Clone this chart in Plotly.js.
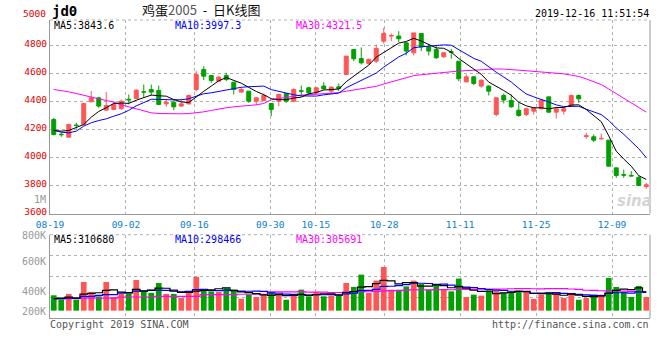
<!DOCTYPE html>
<html>
<head>
<meta charset="utf-8">
<script src="https://cdn.plot.ly/plotly-3.0.1.min.js"></script>
<style>html,body{margin:0;padding:0;background:#fff}#chart{width:660px;height:360px}</style>
</head>
<body>
<div id="chart"></div>
<script>
// ---------- data ----------
const tickIdx    = [0, 10, 19, 29, 35, 44, 54, 64, 74];
const tickLabels = ['08-19','09-02','09-16','09-30','10-15','10-28','11-11','11-25','12-09'];
const priceTicks = [3600, 3800, 4000, 4200, 4400, 4600, 4800];
const priceTickText = ['3600','3800','4000','4200','4400','4600','4800'];

const open  = [4271,4166,4145,4231,4236,4398,4426,4338,4343,4348,4416,4421,4469,4486,4479,4383,4395,4367,4383,4486,
               4629,4586,4545,4586,4538,4467,4474,4402,4407,4386,4402,4457,4402,4476,4498,4462,4510,4474,4505,4593,
               4771,4707,4671,4688,4831,4867,4867,4819,4748,4886,4790,4771,4719,4755,4688,4540,4576,4510,4510,4307,
               4443,4407,4338,4307,4331,4348,4433,4324,4331,4371,4443,4150,4148,4133,4124,3926,3878,3872,3858,3793];
const high  = [4283,4181,4240,4248,4390,4474,4433,4467,4402,4414,4450,4486,4521,4521,4514,4419,4407,4414,4450,4617,
               4652,4586,4581,4605,4538,4498,4474,4431,4457,4390,4457,4457,4493,4514,4505,4502,4538,4510,4529,4726,
               4771,4786,4707,4807,4926,4886,4902,4824,4890,4886,4807,4800,4752,4776,4688,4593,4581,4557,4514,4431,
               4457,4450,4390,4355,4362,4410,4433,4362,4362,4450,4450,4176,4164,4171,4124,3926,3914,3902,3871,3819];
const low   = [4157,4148,4145,4205,4229,4395,4355,4338,4338,4343,4379,4421,4431,4443,4379,4362,4338,4362,4379,4474,
               4552,4533,4545,4545,4450,4464,4390,4374,4402,4295,4367,4390,4395,4443,4450,4450,4486,4457,4474,4590,
               4688,4664,4664,4676,4814,4831,4824,4729,4729,4760,4729,4705,4712,4705,4545,4540,4517,4498,4443,4295,
               4386,4355,4290,4295,4307,4343,4319,4279,4307,4362,4390,4133,4110,4129,3938,3855,3855,3867,3795,3776];
const close = [4164,4163,4236,4229,4386,4426,4367,4371,4379,4402,4412,4481,4467,4467,4379,4395,4362,4383,4443,4593,
               4581,4550,4574,4557,4486,4486,4402,4426,4443,4343,4450,4402,4486,4474,4462,4498,4490,4502,4493,4724,
               4705,4676,4700,4779,4886,4871,4848,4760,4890,4790,4760,4712,4748,4752,4562,4576,4529,4552,4474,4426,
               4410,4362,4300,4348,4355,4410,4324,4348,4348,4443,4419,4155,4124,4136,3938,3872,3874,3868,3800,3805];
const volume = [290000,266000,298000,264000,368000,310000,284000,368000,280000,298000,
                300000,380000,313000,304000,362000,298000,298000,274000,304000,398000,
                317000,313000,310000,333000,323000,270000,294000,280000,294000,310000,
                294000,264000,288000,323000,284000,310000,284000,288000,288000,362000,
                339000,411000,304000,376000,456000,323000,323000,342000,376000,356000,
                323000,356000,323000,313000,388000,280000,294000,288000,319000,317000,
                304000,310000,317000,310000,269000,294000,310000,304000,274000,304000,
                264000,274000,294000,294000,392000,339000,310000,280000,345000,280000];

// moving-average values before enough bars exist
const ma5Head  = [4193,4188,4193,4215];
const ma10Head = [4195,4181,4176,4188,4224,4248,4264,4276,4295];
const ma30Head = [4486,4479,4469,4457,4443,4433,4419,4407,4395,4376,4362,4348,4331,4319,4314,
                  4312,4312,4312,4314,4319,4326,4336,4348,4355,4362,4366,4369,4376,4386];
const vma5Head  = [270000,274000,279000,274000];
const vma10Head = [270000,270000,274000,274000,284000,284000,290000,294000,294000];
const vma30Head = [270000,270000,270000,270000,274000,274000,274000,274000,274000,280000,
                   280000,280000,280000,280000,284000,284000,284000,284000,284000,284000,
                   294000,294000,294000,294000,294000,296000,296000,296000,296000];

const legendMain = ['MA5:3843.6','MA10:3997.3','MA30:4321.5'];
const legendVol  = ['MA5:310680','MA10:298466','MA30:305691'];
const volLabels  = ['1M','800K','600K','400K','200K'];

// ---------- helpers ----------
const idx = close.map((_, i) => i);
function movingAvg(arr, n, head) {
  return arr.map((v, i) => {
    if (i < n - 1) return head[i];
    let s = 0; for (let k = i - n + 1; k <= i; k++) s += arr[k];
    return s / n;
  });
}
const W = 660, H = 360, L = 50, R = 10, T = 20, B = 42;
const plotW = W - L - R, plotH = H - T - B;
const fx = x => (x - L) / plotW;          // pixel x -> paper
const fy = y => (H - B - y) / plotH;      // pixel y -> paper

const RED = '#ff5555', GREEN = '#00a000';
const MONO = 'DejaVu Sans Mono';
const VOL_BASE = 200000;

const traces = [
  {type:'candlestick', x: idx, open, high, low, close, xaxis:'x', yaxis:'y',
   increasing:{line:{color:RED, width:1}, fillcolor:RED},
   decreasing:{line:{color:GREEN, width:1}, fillcolor:GREEN},
   whiskerwidth:0, hoverinfo:'skip', showlegend:false},
  {type:'scatter', mode:'lines', x: idx, y: movingAvg(close,30,ma30Head), line:{color:'#ff00ff', width:1}, xaxis:'x', yaxis:'y', hoverinfo:'skip'},
  {type:'scatter', mode:'lines', x: idx, y: movingAvg(close,10,ma10Head), line:{color:'#0000ff', width:1}, xaxis:'x', yaxis:'y', hoverinfo:'skip'},
  {type:'scatter', mode:'lines', x: idx, y: movingAvg(close,5,ma5Head),  line:{color:'#000000', width:1}, xaxis:'x', yaxis:'y', hoverinfo:'skip'},
  {type:'bar', x: idx, y: volume.map(v => v - VOL_BASE), base: VOL_BASE, xaxis:'x2', yaxis:'y2',
   marker:{color: close.map((c, i) => c > open[i] ? RED : GREEN), line:{width:0}}, hoverinfo:'skip'},
  {type:'scatter', mode:'lines', x: idx, y: movingAvg(volume,30,vma30Head), line:{color:'#ff00ff', width:1.2, shape:'hvh'}, xaxis:'x2', yaxis:'y2', hoverinfo:'skip'},
  {type:'scatter', mode:'lines', x: idx, y: movingAvg(volume,10,vma10Head), line:{color:'#0000ff', width:1.2, shape:'hvh'}, xaxis:'x2', yaxis:'y2', hoverinfo:'skip'},
  {type:'scatter', mode:'lines', x: idx, y: movingAvg(volume,5,vma5Head),  line:{color:'#000000', width:1.2, shape:'hvh'}, xaxis:'x2', yaxis:'y2', hoverinfo:'skip'},
  {type:'scatter', x: [], y: [], xaxis:'x3', yaxis:'y', hoverinfo:'skip'},
  {type:'scatter', x: [], y: [], xaxis:'x4', yaxis:'y2', hoverinfo:'skip'}
];

const gridStyle = {showgrid:true, gridcolor:'#b0b0b0', griddash:'dot', gridwidth:1};
const n = close.length;

const layout = {
  width: W, height: H,
  margin: {l:L, r:R, t:T, b:B},
  paper_bgcolor:'#fff', plot_bgcolor:'#fff',
  showlegend:false, hovermode:false,
  boxgap: 0.25, bargap: 0.24,
  font:{family: MONO, size:10, color:'#000'},
  xaxis: {domain:[0,1], anchor:'y', range:[-0.5, n - 0.5], type:'linear', showgrid:false, zeroline:false,
          showticklabels:false, ticks:'', showline:true, linecolor:'#999', linewidth:1,
          rangeslider:{visible:false}, fixedrange:true},
  xaxis3: {overlaying:'x', anchor:'y', range:[0, n - 1], type:'linear', ...gridStyle, zeroline:false,
           tickmode:'array', tickvals: tickIdx, ticktext: tickLabels, ticks:'', showline:false,
           ticklabelstandoff: 4,
           tickfont:{family:MONO, size:9.5, color:'#0a80d0'}, side:'bottom'},
  yaxis: {domain:[fy(213.5), 1], anchor:'x', range:[3600, 4982], ...gridStyle, zeroline:false,
          tickmode:'array', tickvals: priceTicks, ticktext: priceTickText, ticks:'',
          ticklabelshift: -2,
          tickfont:{family:MONO, size:9.5, color:'#e00000'}, showline:true, linecolor:'#999', linewidth:1},
  xaxis2: {domain:[0,1], anchor:'y2', range:[-0.5, n - 0.5], type:'linear', showgrid:false, zeroline:false,
           showticklabels:false, ticks:'', showline:true, linecolor:'#999', linewidth:1, fixedrange:true},
  xaxis4: {overlaying:'x2', anchor:'y2', range:[0, n - 1], type:'linear', ...gridStyle, zeroline:false,
           tickmode:'array', tickvals: tickIdx, showticklabels:false, ticks:'', showline:false},
  yaxis2: {domain:[0, fy(234.7)], anchor:'x2', range:[157000, 645000], ...gridStyle, zeroline:false,
           tick0:157000, dtick:122000, showticklabels:false, ticks:'',
           showline:true, linecolor:'#999', linewidth:1},
  shapes: [
    {type:'line', xref:'paper', yref:'y domain', x0:1, x1:1, y0:0, y1:1, line:{color:'#999', width:1}},
    {type:'line', xref:'paper', yref:'y domain', x0:0, x1:1, y0:1, y1:1, line:{color:'#b0b0b0', width:1, dash:'dot'}},
    {type:'line', xref:'paper', yref:'y2 domain', x0:1, x1:1, y0:0, y1:1, line:{color:'#999', width:1}},
    {type:'line', xref:'paper', yref:'y2 domain', x0:0, x1:1, y0:1, y1:1, line:{color:'#b0b0b0', width:1, dash:'dot'}}
  ],
  annotations: []
};

function ann(text, xpx, ypx, xanchor, font) {
  layout.annotations.push({text, x: fx(xpx), y: fy(ypx), xref:'paper', yref:'paper',
    xanchor, yanchor:'middle', showarrow:false, font, borderpad:0});
}
ann('<b>jd0</b>', 51, 11, 'left', {family:MONO, size:14, color:'#000'});
ann('鸡蛋<span style="color:#555">2005</span>&nbsp;&nbsp;-&nbsp;&nbsp;日K线图', 201, 10, 'center', {family:'Noto Sans CJK SC', size:13, color:'#111'});
ann('2019-12-16 11:51:54', 650, 13, 'right', {family:MONO, size:10, color:'#000'});
ann('5000', 47, 14, 'right', {family:MONO, size:9.5, color:'#e00000'});
const legColors = ['#000000', '#0000ff', '#ff00ff'];
const legX = [53, 174, 295];
legendMain.forEach((t, i) => ann(t, legX[i], 25, 'left', {family:MONO, size:10, color:legColors[i]}));
legendVol.forEach((t, i) => ann(t, legX[i], 239, 'left', {family:MONO, size:10, color:legColors[i]}));
const volLabelY = [199, 235, 261, 291, 311];
volLabels.forEach((t, i) => ann(t, 47, volLabelY[i], 'right', {family:MONO, size:10, color:'#999'}));
ann('Copyright 2019 SINA.COM', 49, 324, 'left', {family:MONO, size:10, color:'#555'});
ann('http://finance.sina.com.cn', 650, 324, 'right', {family:MONO, size:10, color:'#555'});
ann('<b><i>sina</i></b>', 634, 201, 'center', {family:'DejaVu Sans', size:15, color:'#d4d4d4'});

Plotly.newPlot('chart', traces, layout, {displayModeBar:false, staticPlot:true});
</script>
</body>
</html>
